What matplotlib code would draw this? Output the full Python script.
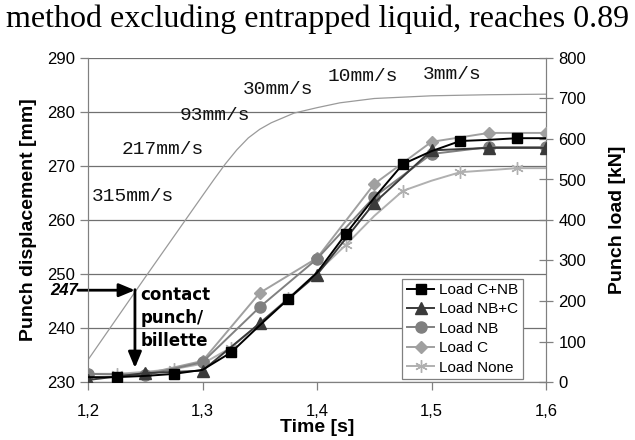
import matplotlib
matplotlib.use("Agg")
import matplotlib.pyplot as plt
import matplotlib.transforms as mtransforms

# punch displacement (left axis, mm)
t_disp = [1.2, 1.25, 1.3, 1.31, 1.32, 1.33, 1.34, 1.35, 1.36, 1.38, 1.4, 1.42, 1.45, 1.5, 1.55, 1.6]
disp = [234.1, 249.4, 264.5, 267.5, 270.4, 273.0, 275.2, 276.8, 278.0, 279.8, 280.8, 281.7, 282.5, 283.0, 283.2, 283.3]

# punch loads (right axis, kN)
t_fine = [1.2, 1.225, 1.25, 1.275, 1.3, 1.325, 1.35, 1.375, 1.4, 1.425, 1.45, 1.475, 1.5, 1.525, 1.55, 1.575, 1.6]
t_coarse = [1.2, 1.25, 1.3, 1.35, 1.4, 1.45, 1.5, 1.55, 1.6]
load_c_nb = [12, 12, 15, 20, 30, 73, 140, 205, 270, 365, 455, 538, 570, 595, 598, 602, 602]
load_nb_c = [5, 22, 28, 145, 265, 442, 572, 578, 578]
load_nb = [20, 17, 49, 185, 304, 457, 563, 580, 580]
load_c = [20, 20, 52, 220, 306, 489, 593, 615, 615]
load_none = [20, 20, 25, 32, 45, 85, 145, 207, 270, 338, 410, 472, 497, 518, 523, 528, 528]

speed_labels = ['315mm/s', '217mm/s', '93mm/s', '30mm/s', '10mm/s', '3mm/s']
speed_pos = [(1.2035, 264.4), (1.2297, 273.0), (1.2803, 279.4), (1.3354, 284.1), (1.4096, 286.6), (1.4926, 286.9)]

fig = plt.figure(figsize=(6.35, 4.4), dpi=100)
ax = fig.add_axes([88/635, 1-382/440, 458/635, 324/440])
ax2 = ax.twinx()

fig.text(0.5, 1-27/440, 'method excluding entrapped liquid, reaches 0.89', ha='center', va='baseline',
         family='Liberation Serif', fontsize=23)

grey = '#808080'
ax.plot(t_disp, disp, color='#9a9a9a', lw=0.9, zorder=3)
ax.set_xlim(1.2, 1.6)
ax.set_ylim(230, 290)
ax.set_yticks(range(230, 291, 10))
ax.set_xticks([1.2, 1.3, 1.4, 1.5, 1.6])
ax.set_xticklabels(['1,2', '1,3', '1,4', '1,5', '1,6'])
ax.grid(axis='y', color='#707070', lw=0.9)
ax.set_axisbelow(True)

for s in ['top']:
    ax.spines[s].set_visible(False)
    ax2.spines[s].set_visible(False)
for s in ['left', 'bottom', 'right']:
    ax.spines[s].set_color(grey)
    ax2.spines[s].set_color(grey)

ax.tick_params(axis='both', colors=grey, labelcolor='black', labelsize=12, length=6, width=0.9)
ax.tick_params(axis='x', pad=10)
for lab in ax.get_xticklabels() + ax.get_yticklabels():
    lab.set_family('Liberation Sans')

ax.set_xlabel('Time [s]', family='Liberation Sans', fontweight='bold', fontsize=14, labelpad=0)
ax.set_ylabel('Punch displacement [mm]', family='Liberation Sans', fontweight='bold', fontsize=14, labelpad=7)

for lab, (x, y) in zip(speed_labels, speed_pos):
    ax.text(x, y, lab, family='Liberation Mono', fontsize=14, va='center', ha='left', color='#111111')

# loads
ax2.plot(t_fine, load_none, color='#b0b0b0', lw=1.4, marker=(6, 2, 0), ms=9, mec='#b0b0b0',
         markevery=slice(1, None, 2), label='Load None', zorder=2)
ax2.plot(t_coarse, load_c, color='#a0a0a0', lw=1.4, marker='D', ms=6, mfc='#a0a0a0', mec='#a0a0a0',
         label='Load C', zorder=3)
ax2.plot(t_coarse, load_nb, color='#808080', lw=1.4, marker='o', ms=8, mfc='#808080', mec='#808080',
         label='Load NB', zorder=4)
ax2.plot(t_coarse, load_nb_c, color='#3a3a3a', lw=1.4, marker='^', ms=9, mfc='#3a3a3a', mec='#3a3a3a',
         label='Load NB+C', zorder=5)
ax2.plot(t_fine, load_c_nb, color='black', lw=1.4, marker='s', ms=7.5, mfc='black', mec='black',
         markevery=slice(1, None, 2), label='Load C+NB', zorder=6)
ax2.set_ylim(0, 800)
ax2.set_yticks(range(0, 801, 100))
ax2.tick_params(axis='y', direction='inout', length=10, width=0.9, colors=grey, labelcolor='black',
                labelsize=12, pad=4)
for lab in ax2.get_yticklabels():
    lab.set_family('Liberation Sans')
ax2.set_ylabel('Punch load [kN]', family='Liberation Sans', fontweight='bold', fontsize=14, labelpad=16)

handles, labels = ax2.get_legend_handles_labels()
order = [4, 3, 2, 1, 0]
leg = ax2.legend([handles[i] for i in order], [labels[i] for i in order], loc='lower left',
                 bbox_to_anchor=(0.686, 0.009), borderaxespad=0, fancybox=False, framealpha=1,
                 edgecolor=grey, prop={'family': 'Liberation Sans', 'size': 11}, handlelength=1.8,
                 handletextpad=0.3, labelspacing=0.35, borderpad=0.3)
leg.get_frame().set_linewidth(0.9)

# contact punch/billette
blend = mtransforms.blended_transform_factory(ax.transAxes, ax.transData)
ax.annotate('', xy=(1.241, 247), xycoords='data', xytext=(-0.022, 247), textcoords=blend,
            arrowprops=dict(arrowstyle='-|>,head_length=0.6,head_width=0.25', color='black', lw=2,
                            mutation_scale=16, shrinkA=0, shrinkB=0),
            annotation_clip=False)
ax.annotate('', xy=(1.241, 232.6), xytext=(1.241, 247.1),
            arrowprops=dict(arrowstyle='-|>,head_length=0.6,head_width=0.25', color='black', lw=2,
                            mutation_scale=16, shrinkA=0, shrinkB=0))
ax.text(-0.022, 247, '247', transform=blend, ha='right', va='center', fontsize=12,
        fontweight='bold', fontstyle='italic', family='Liberation Sans')
ax.text(1.246, 241.9, 'contact\npunch/\nbillette', family='DejaVu Sans', fontweight='bold', fontsize=12,
        va='center', ha='left', linespacing=1.35)

fig.savefig('out.png', dpi=100)
